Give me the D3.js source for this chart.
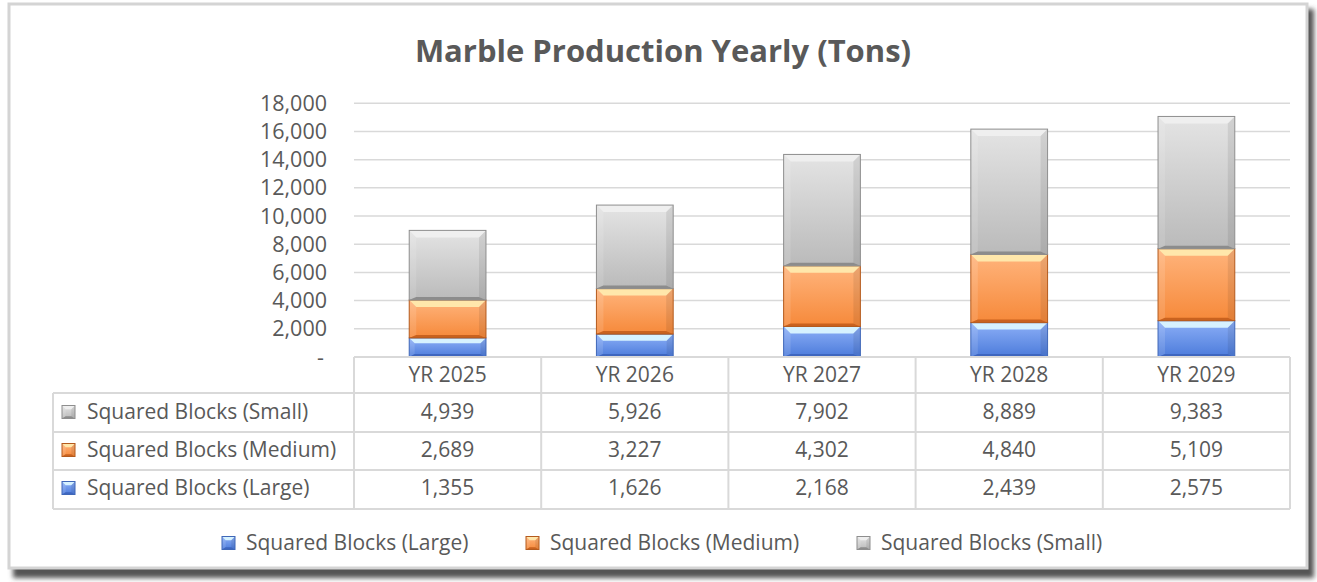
<!DOCTYPE html>
<html>
<head>
<meta charset="utf-8">
<script src="https://cdn.jsdelivr.net/npm/d3@7"></script>
<style>
  body { margin: 0; background: #fff; }
  text { font-family: "Open Sans", sans-serif; fill: #595959; }
</style>
</head>
<body>
<div id="chart"></div>
<script>
// data
let years = ["YR 2025", "YR 2026", "YR 2027", "YR 2028", "YR 2029"];
let seriesNames = ["Squared Blocks (Large)", "Squared Blocks (Medium)", "Squared Blocks (Small)"];
let large = [1355, 1626, 2168, 2439, 2575];
let medium = [2689, 3227, 4302, 4840, 5109];
let small = [4939, 5926, 7902, 8889, 9383];
let yTicks = [0, 2000, 4000, 6000, 8000, 10000, 12000, 14000, 16000, 18000];

let W = 1317, H = 582;
let svg = d3.select("#chart").append("svg").attr("width", W).attr("height", H);
let defs = svg.append("defs");

// frame with a soft dark shadow on the right and bottom
let blur = defs.append("filter").attr("id", "blur").attr("x", "-5%").attr("y", "-5%").attr("width", "110%").attr("height", "115%");
blur.append("feGaussianBlur").attr("stdDeviation", 2.5);
svg.append("rect").attr("x", 13).attr("y", 9).attr("width", 1301).attr("height", 569)
  .attr("fill", "#555").attr("filter", "url(#blur)");
svg.append("rect").attr("x", 9).attr("y", 4).attr("width", 1298).attr("height", 564)
  .attr("fill", "#fff").attr("stroke", "#d4d4d4").attr("stroke-width", 3);

// palettes for the bevelled bars
let pal = [
  {name: "blue", g1: "#8db0f7", g2: "#4c7bdb", top: "#d6f2ff", bottom: "#3e66bf", stroke: "#3f67b8"},
  {name: "orange", g1: "#ffb47c", g2: "#f6893a", top: "#ffe7ab", bottom: "#c9621f", stroke: "#b45a1d"},
  {name: "gray", g1: "#e4e4e4", g2: "#bababa", top: "#efefef", bottom: "#8c8c8c", stroke: "#8e8e8e"}
];
pal.forEach(p => {
  let lg = defs.append("linearGradient").attr("id", "g-" + p.name).attr("x1", 0).attr("y1", 0).attr("x2", 0).attr("y2", 1);
  lg.append("stop").attr("offset", "0%").attr("stop-color", p.g1);
  lg.append("stop").attr("offset", "100%").attr("stop-color", p.g2);
});

// title
svg.append("text").attr("x", 663).attr("y", 62).attr("text-anchor", "middle")
  .style("font-size", "31px").style("font-weight", "bold").text("Marble Production Yearly (Tons)");

// scales
let x = d3.scaleBand().domain(years).range([354, 1290]);
let y = d3.scaleLinear().domain([0, 18000]).range([357, 103.3]);
let barW = x.bandwidth() * 0.41;

// gridlines
svg.append("g").selectAll("line").data(yTicks.slice(1)).enter().append("line")
  .attr("x1", 354).attr("x2", 1290)
  .attr("y1", d => y(d)).attr("y2", d => y(d))
  .attr("stroke", "#d9d9d9").attr("stroke-width", 1.5);

// y axis labels
let fmt = d3.format(",");
svg.append("g").selectAll("text").data(yTicks).enter().append("text")
  .attr("x", d => d === 0 ? 324 : 327).attr("y", d => y(d)).attr("dy", "0.35em")
  .attr("text-anchor", "end").style("font-size", "21.5px")
  .text(d => d === 0 ? "-" : fmt(d));

// stacked bars
let rows = years.map((yr, i) => ({year: yr, large: large[i], medium: medium[i], small: small[i]}));
let stack = d3.stack().keys(["large", "medium", "small"])(rows);

function bevel(g, bx, by, w, h, p, bt) {
  let b = Math.min(bt, h / 3.5);
  let bb = Math.min(3, h / 6);
  g.append("rect").attr("x", bx).attr("y", by).attr("width", w).attr("height", h)
    .attr("fill", "url(#g-" + p.name + ")");
  let poly = (pts, c, o) => g.append("polygon").attr("points", pts.map(q => q.join(",")).join(" "))
    .attr("fill", c).attr("fill-opacity", o);
  poly([[bx, by], [bx + w, by], [bx + w - b, by + b], [bx + b, by + b]], p.top, 1);
  poly([[bx, by], [bx + b, by + b], [bx + b, by + h - bb], [bx, by + h]], "#fff", 0.12);
  poly([[bx + w, by], [bx + w - b, by + b], [bx + w - b, by + h - bb], [bx + w, by + h]], "#000", 0.08);
  poly([[bx, by + h], [bx + b, by + h - bb], [bx + w - b, by + h - bb], [bx + w, by + h]], p.bottom, 1);
  g.append("rect").attr("x", bx).attr("y", by).attr("width", w).attr("height", h)
    .attr("fill", "none").attr("stroke", p.stroke).attr("stroke-width", 1);
}

let barsG = svg.append("g");
stack.forEach((s, si) => {
  s.forEach(d => {
    let bx = x(d.data.year) + (x.bandwidth() - barW) / 2;
    let y0 = y(d[0]), y1 = y(d[1]);
    bevel(barsG, bx, y1, barW, y0 - y1, pal[si], 7);
  });
});

// data table
let tbl = svg.append("g");
let rowY = [393, 432, 470, 509];
let lineC = "#d9d9d9";
tbl.append("line").attr("x1", 354).attr("x2", 1290).attr("y1", 357).attr("y2", 357).attr("stroke", lineC).attr("stroke-width", 2);
tbl.selectAll(".h").data(rowY).enter().append("line")
  .attr("x1", 53).attr("x2", 1290).attr("y1", d => d).attr("y2", d => d)
  .attr("stroke", lineC).attr("stroke-width", 2);
let colEdges = years.map(d => x(d)).concat([1290]);
tbl.selectAll(".v").data(colEdges).enter().append("line")
  .attr("x1", d => d).attr("x2", d => d).attr("y1", 357).attr("y2", 509)
  .attr("stroke", lineC).attr("stroke-width", 2);
tbl.append("line").attr("x1", 53).attr("x2", 53).attr("y1", 393).attr("y2", 509)
  .attr("stroke", lineC).attr("stroke-width", 2);

tbl.selectAll(".yr").data(years).enter().append("text")
  .attr("x", d => x(d) + x.bandwidth() / 2).attr("y", 375).attr("dy", "0.35em")
  .attr("text-anchor", "middle").style("font-size", "21px").text(d => d);

let tableRows = [
  {name: seriesNames[2], vals: small, p: pal[2], cy: 412},
  {name: seriesNames[1], vals: medium, p: pal[1], cy: 450},
  {name: seriesNames[0], vals: large, p: pal[0], cy: 488}
];
function marker(g, mx, my, p) {
  let s = 13;
  bevel(g, mx, my - s / 2, s, s, p, 4);
}
tableRows.forEach(r => {
  marker(tbl, 62, r.cy, r.p);
  tbl.append("text").attr("x", 87).attr("y", r.cy).attr("dy", "0.35em")
    .style("font-size", "21px").text(r.name);
  tbl.selectAll(null).data(r.vals).enter().append("text")
    .attr("x", (d, i) => x(years[i]) + x.bandwidth() / 2).attr("y", r.cy).attr("dy", "0.35em")
    .attr("text-anchor", "middle").style("font-size", "21px").text(d => fmt(d));
});

// bottom legend
let legX = [222, 526, 857];
let leg = svg.append("g");
seriesNames.forEach((n, i) => {
  marker(leg, legX[i], 543, pal[i]);
  leg.append("text").attr("x", legX[i] + 24).attr("y", 543).attr("dy", "0.35em")
    .style("font-size", "21px").text(n);
});
</script>
</body>
</html>
